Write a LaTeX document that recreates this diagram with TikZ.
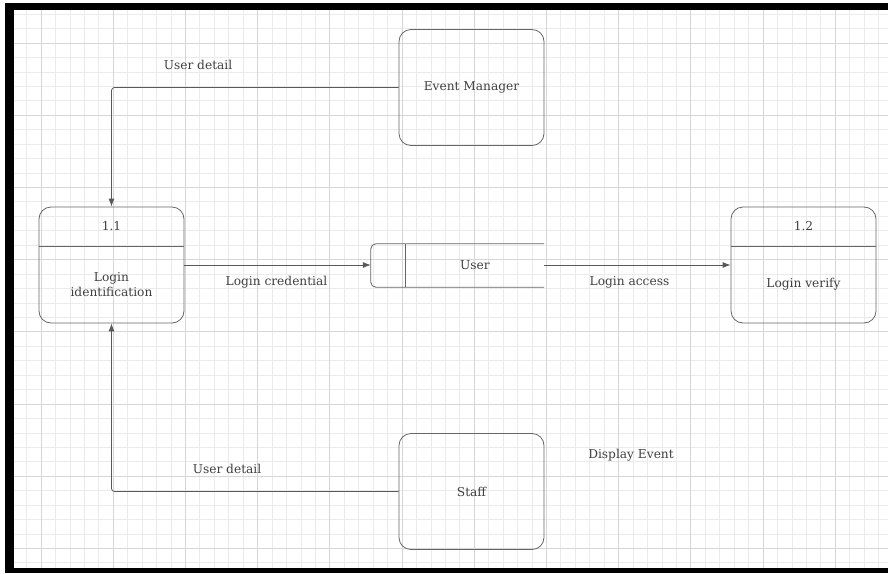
\documentclass[tikz,border=0pt]{standalone}
\usepackage{fontspec}
\setmainfont{DejaVu Serif}
\usetikzlibrary{arrows.meta,positioning,calc}

\begin{document}
\begin{tikzpicture}[x=1pt,y=-1pt,
    box/.style={draw=black!60, line width=0.8pt, rounded corners=12pt, minimum width=145pt, minimum height=116pt, inner sep=0pt},
    lbl/.style={font=\fontsize{12.2}{15}\selectfont, text=black!75, align=center, inner sep=0pt},
    arr/.style={-{Latex[length=8pt,width=6pt]}, draw=black!65, line width=0.8pt, rounded corners=3pt}
]
% canvas and grid
\useasboundingbox (0,0) rectangle (888,573);
\fill[white] (0,0) rectangle (888,573);
\foreach \i in {-2,...,58} \draw[black!8, line width=0.7pt] (41+14.44*\i,10) -- (41+14.44*\i,568);
\foreach \j in {-2,...,36} \draw[black!8, line width=0.7pt] (14,43+14.44*\j) -- (888,43+14.44*\j);
\foreach \i in {0,...,11} \draw[black!16, line width=0.8pt] (41+72.2*\i,10) -- (41+72.2*\i,568);
\foreach \j in {0,...,7} \draw[black!16, line width=0.8pt] (14,43+72.2*\j) -- (888,43+72.2*\j);
\fill[black] (5,3) rectangle (888,10);
\fill[black] (5,3) rectangle (14,573);
\fill[black] (5,568) rectangle (888,573);

% external entities
\node[box, lbl] (evm) at (471.5,87.5) {Event Manager};
\node[box, lbl] (staff) at (471.5,491.5) {Staff};

% processes
\node[box] (p11) at (111.5,265) {};
\node[lbl, minimum height=39pt, anchor=north] (p11id) at (p11.north) {1.1};
\node[lbl, below=0pt of p11id, minimum height=77pt] (p11txt) {Login\\identification};
\draw[black!60, line width=0.8pt] (p11.west |- p11id.south) -- (p11.east |- p11id.south);

\node[box] (p12) at (803.5,265) {};
\node[lbl, minimum height=39pt, anchor=north] (p12id) at (p12.north) {1.2};
\node[lbl, below=0pt of p12id, minimum height=77pt] (p12txt) {Login verify};
\draw[black!60, line width=0.8pt] (p12.west |- p12id.south) -- (p12.east |- p12id.south);

% data store
\node[minimum width=173pt, minimum height=43pt, inner sep=0pt] (store) at (457.5,265.5) {};
\node[minimum width=34pt, minimum height=43pt, inner sep=0pt, anchor=west] (storeid) at (store.west) {};
\node[lbl, right=0pt of storeid, minimum width=139pt, minimum height=43pt] (storename) {User};
\draw[black!60, line width=0.8pt, rounded corners=5pt] (store.north east) -- (store.north west) -- (store.south west) -- (store.south east);
\draw[black!60, line width=0.8pt] (storeid.north east) -- (storeid.south east);

% flows
\draw[arr] (evm.west) -| (p11.north);
\draw[arr] (staff.west) -| (p11.south);
\draw[arr] (p11.east) -- (p11.east -| store.west);
\draw[arr] (store.east |- p11.east) -- (p12.west);

% flow labels
\node[lbl] (ud1) at (198,65) {User detail};
\node[lbl] (ud2) at (227,469) {User detail};
\node[lbl] (lc) at (276.5,282) {Login credential};
\node[lbl] (la) at (629.5,282) {Login access};
\node[lbl] (de) at (631,455) {Display Event};
\end{tikzpicture}
\end{document}
